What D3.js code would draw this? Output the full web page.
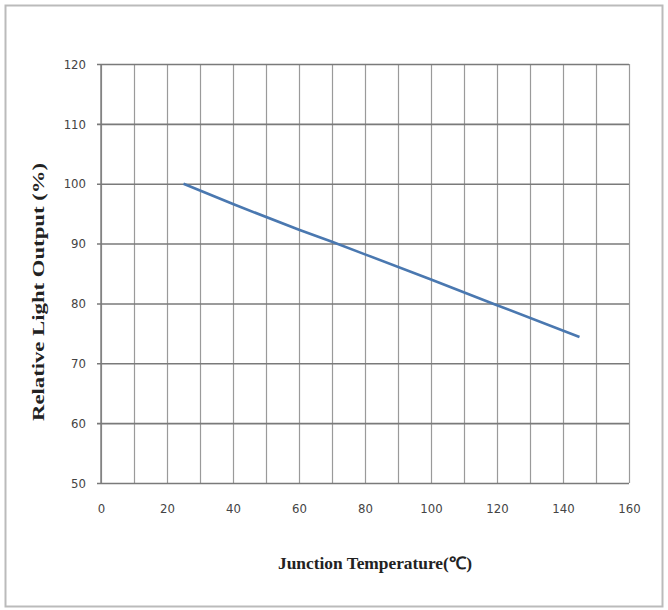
<!DOCTYPE html>
<html><head><meta charset="utf-8">
<script src="https://cdn.jsdelivr.net/npm/d3@7"></script>
<style>body{margin:0;background:#fff}svg{display:block}</style>
</head><body>
<script>
const temps = [25, 40, 60, 70, 80, 100, 120, 145];
const output = [100, 96.6, 92.3, 90.3, 88.2, 84.0, 79.7, 74.4];
const xTicks = [0, 20, 40, 60, 80, 100, 120, 140, 160];
const yTicks = [50, 60, 70, 80, 90, 100, 110, 120];
const xTitle = "Junction Temperature(℃)";
const yTitle = "Relative Light Output (%)";

const W = 668, H = 610;
const m = {left: 101, right: 39, top: 64, bottom: 127};
const svg = d3.select("body").append("svg").attr("width", W).attr("height", H);

// frame
svg.append("rect").attr("x", 5.5).attr("y", 5.5).attr("width", 657).attr("height", 601)
  .attr("fill", "#fff").attr("stroke", "#bbb").attr("stroke-width", 2);

const x = d3.scaleLinear().domain([0, 160]).range([m.left, W - m.right]);
const y = d3.scaleLinear().domain([50, 120]).range([H - m.bottom, m.top]);

// vertical grid (every 10)
svg.append("g").attr("transform", `translate(0,${m.top})`)
  .call(d3.axisBottom(x).tickValues(d3.range(0, 161, 10)).tickSize(y(50) - m.top).tickFormat(""))
  .call(g => g.select(".domain").remove())
  .call(g => g.selectAll("line").attr("stroke", "#9a9a9a").attr("stroke-width", 1.2));

// horizontal grid
svg.append("g").attr("transform", `translate(${m.left - 4},0)`)
  .call(d3.axisRight(y).tickValues(yTicks).tickSize(x(160) - m.left + 4).tickFormat(""))
  .call(g => g.select(".domain").remove())
  .call(g => g.selectAll("line").attr("stroke", "#7a7a7a").attr("stroke-width", 1.6));

// left axis line
svg.append("line").attr("x1", x(0)).attr("x2", x(0)).attr("y1", y(120)).attr("y2", y(50))
  .attr("stroke", "#7a7a7a").attr("stroke-width", 1.4);

// y tick labels
svg.append("g").attr("transform", `translate(${m.left - 15},0)`)
  .call(d3.axisLeft(y).tickValues(yTicks).tickSize(0).tickPadding(0))
  .call(g => g.select(".domain").remove())
  .call(g => g.selectAll("text").attr("font-family", "'Liberation Sans Narrow','DejaVu Sans Condensed',sans-serif")
    .attr("font-size", 13).attr("fill", "#444"));

// x tick labels
svg.append("g").attr("transform", `translate(0,${y(50) + 21})`)
  .call(d3.axisBottom(x).tickValues(xTicks).tickSize(0).tickPadding(0))
  .call(g => g.select(".domain").remove())
  .call(g => g.selectAll("text").attr("font-family", "'Liberation Sans Narrow','DejaVu Sans Condensed',sans-serif")
    .attr("font-size", 13).attr("fill", "#444"));

// line
svg.append("path").datum(temps.map((t, i) => [t, output[i]]))
  .attr("fill", "none").attr("stroke", "#4a78b0").attr("stroke-width", 2.6)
  .attr("d", d3.line().x(d => x(d[0])).y(d => y(d[1])));

// titles
svg.append("text").attr("x", 375).attr("y", 569).attr("text-anchor", "middle")
  .attr("font-family", "'Liberation Serif',serif").attr("font-weight", "bold").attr("font-size", 17)
  .attr("fill", "#222").attr("textLength", 194).attr("lengthAdjust", "spacingAndGlyphs").text(xTitle);

svg.append("text").attr("transform", "translate(44,292) rotate(-90)").attr("text-anchor", "middle")
  .attr("font-family", "'Liberation Serif',serif").attr("font-weight", "bold").attr("font-size", 16)
  .attr("fill", "#222").attr("textLength", 258).attr("lengthAdjust", "spacingAndGlyphs").text(yTitle);
</script>
</body></html>
